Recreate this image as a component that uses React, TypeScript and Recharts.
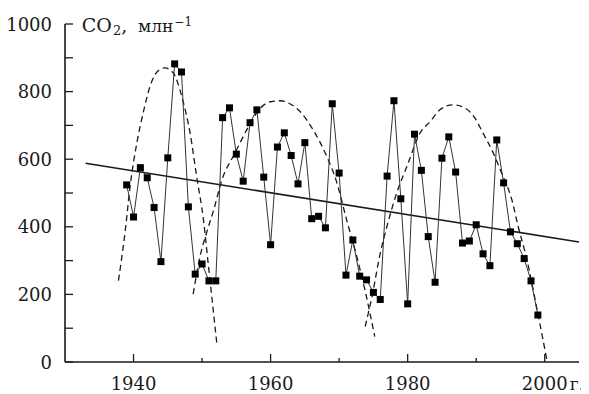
import React from "react";
import { LineChart, Line, XAxis, YAxis } from "recharts";

// Annual CO2 observations
const years = [
  1939, 1940, 1941, 1942, 1943, 1944, 1945, 1946, 1947, 1948,
  1949, 1950, 1951, 1952, 1953, 1954, 1955, 1956, 1957, 1958,
  1959, 1960, 1961, 1962, 1963, 1964, 1965, 1966, 1967, 1968,
  1969, 1970, 1971, 1972, 1973, 1974, 1975, 1976, 1977, 1978,
  1979, 1980, 1981, 1982, 1983, 1984, 1985, 1986, 1987, 1988,
  1989, 1990, 1991, 1992, 1993, 1994, 1995, 1996, 1997, 1998, 1999,
];
const co2 = [
  524, 429, 575, 545, 457, 297, 604, 882, 858, 459,
  260, 290, 240, 240, 723, 752, 615, 535, 708, 746,
  547, 347, 636, 678, 611, 527, 649, 424, 431, 397,
  764, 559, 257, 361, 254, 243, 206, 185, 550, 773,
  483, 172, 674, 567, 371, 236, 603, 666, 562, 352,
  358, 406, 320, 285, 657, 530, 385, 350, 306, 240, 139,
];

// Linear trend
const trendX = [1933, 2005];
const trendY = [588, 355];

// Dashed cycle curves
const cycle1X = [1937.8, 1938.8, 1939.5, 1940.5, 1941.5, 1942.4, 1943.6, 1944.6, 1945.8, 1947.1, 1948.3, 1949.2, 1950.2, 1950.9, 1951.7, 1952.2];
const cycle1Y = [241, 390, 520, 650, 745, 815, 862, 870, 855, 781, 672, 550, 421, 290, 140, 46];
const cycle2X = [1948.7, 1949.7, 1950.7, 1951.7, 1952.9, 1954.8, 1956.8, 1958.5, 1960.0, 1961.4, 1963.0, 1964.3, 1966.2, 1968.2, 1969.6, 1971.1, 1972.6, 1973.8, 1975.2];
const cycle2Y = [201, 312, 385, 450, 539, 618, 697, 751, 770, 773, 762, 741, 687, 608, 535, 420, 310, 210, 75];
const cycle3X = [1973.8, 1974.8, 1976.0, 1977.0, 1978.4, 1979.9, 1981.8, 1983.3, 1984.7, 1986.6, 1988.4, 1989.8, 1991.0, 1992.5, 1993.7, 1995.2, 1996.1, 1997.4, 1998.8, 2000.3];
const cycle3Y = [105, 194, 322, 403, 500, 579, 677, 712, 746, 761, 751, 722, 677, 618, 559, 480, 403, 303, 164, 7];

const xTicks = [1940, 1950, 1960, 1970, 1980, 1990, 2000];
const xLabels = [1940, 1960, 1980, 2000];
const yTicks = [0, 100, 200, 300, 400, 500, 600, 700, 800, 900, 1000];
const yLabels = [0, 200, 400, 600, 800, 1000];

const zip = (xs: number[], ys: number[]) => xs.map((x, i) => ({ x, y: ys[i] }));

const obsData = zip(years, co2);
const trendData = zip(trendX, trendY);
const c1 = zip(cycle1X, cycle1Y);
const c2 = zip(cycle2X, cycle2Y);
const c3 = zip(cycle3X, cycle3Y);

const FONT = "'DejaVu Serif', serif";
const INK = "#1a1a1a";
const Y_MARGIN = 13;
const X_MARGIN = 10;

const YTick = (props: any) => {
  const { x, y, payload } = props;
  const v = payload.value;
  const ax = x + Y_MARGIN;
  return (
    <g>
      <line x1={ax} x2={ax + 8} y1={y} y2={y} stroke={INK} strokeWidth={1.3} />
      {yLabels.includes(v) && (
        <text x={x} y={y + 6.5} textAnchor="end" fontFamily={FONT} fontSize={18} fill={INK}>
          {v}
        </text>
      )}
    </g>
  );
};

const XTick = (props: any) => {
  const { x, y, payload } = props;
  const v = payload.value;
  const ay = y - X_MARGIN;
  const major = xLabels.includes(v);
  return (
    <g>
      <line x1={x} x2={x} y1={ay} y2={ay - (major ? 8 : 4)} stroke={INK} strokeWidth={1.3} />
      {major && (
        <text x={x} y={ay + 28} textAnchor="middle" fontFamily={FONT} fontSize={18} fill={INK}>
          {v}
        </text>
      )}
      {v === 2000 && (
        <text x={x + 25} y={ay + 28} textAnchor="start" fontFamily={FONT} fontSize={17} fill={INK}>
          г.
        </text>
      )}
    </g>
  );
};

const Title = () => (
  <text y={24} fontFamily={FONT} fontSize={19} fill={INK}>
    <tspan x={81.7}>CO</tspan>
    <tspan x={113} dy={3} fontSize={13}>2</tspan>
    <tspan dy={-3}>,</tspan>
    <tspan x={138} fontSize={17}>млн</tspan>
    <tspan dx={1} dy={-6} fontSize={12}>−1</tspan>
  </text>
);

const Square = (p: any) => (
  <rect key={`sq-${p.index}`} x={p.cx - 3.5} y={p.cy - 3.5} width={7} height={7} fill="#000" />
);

export default function App() {
  return (
    <div style={{ marginLeft: -8, width: 589 }}>
      <LineChart width={589} height={386} margin={{ top: 16, right: 10, left: 0, bottom: 0 }}>
        <XAxis
          dataKey="x"
          type="number"
          domain={[1930, 2005]}
          ticks={xTicks}
          allowDataOverflow
          height={32}
          tickLine={false}
          tickSize={0}
          tickMargin={X_MARGIN}
          tick={<XTick />}
          axisLine={{ stroke: INK, strokeWidth: 1.6 }}
          interval={0}
        />
        <YAxis
          dataKey="y"
          type="number"
          domain={[0, 1000]}
          ticks={yTicks}
          allowDataOverflow
          width={65}
          tickLine={false}
          tickSize={0}
          tickMargin={Y_MARGIN}
          tick={<YTick />}
          axisLine={{ stroke: INK, strokeWidth: 1.6 }}
          interval={0}
          label={{ content: () => <Title /> }}
        />
        <Line data={c1} dataKey="y" type="monotone" stroke={INK} strokeWidth={1.3} strokeDasharray="6 4" dot={false} isAnimationActive={false} />
        <Line data={c2} dataKey="y" type="monotone" stroke={INK} strokeWidth={1.3} strokeDasharray="6 4" dot={false} isAnimationActive={false} />
        <Line data={c3} dataKey="y" type="monotone" stroke={INK} strokeWidth={1.3} strokeDasharray="6 4" dot={false} isAnimationActive={false} />
        <Line data={trendData} dataKey="y" type="linear" stroke={INK} strokeWidth={1.6} dot={false} isAnimationActive={false} />
        <Line data={obsData} dataKey="y" type="linear" stroke="#333" strokeWidth={1} dot={Square} isAnimationActive={false} />
      </LineChart>
    </div>
  );
}
